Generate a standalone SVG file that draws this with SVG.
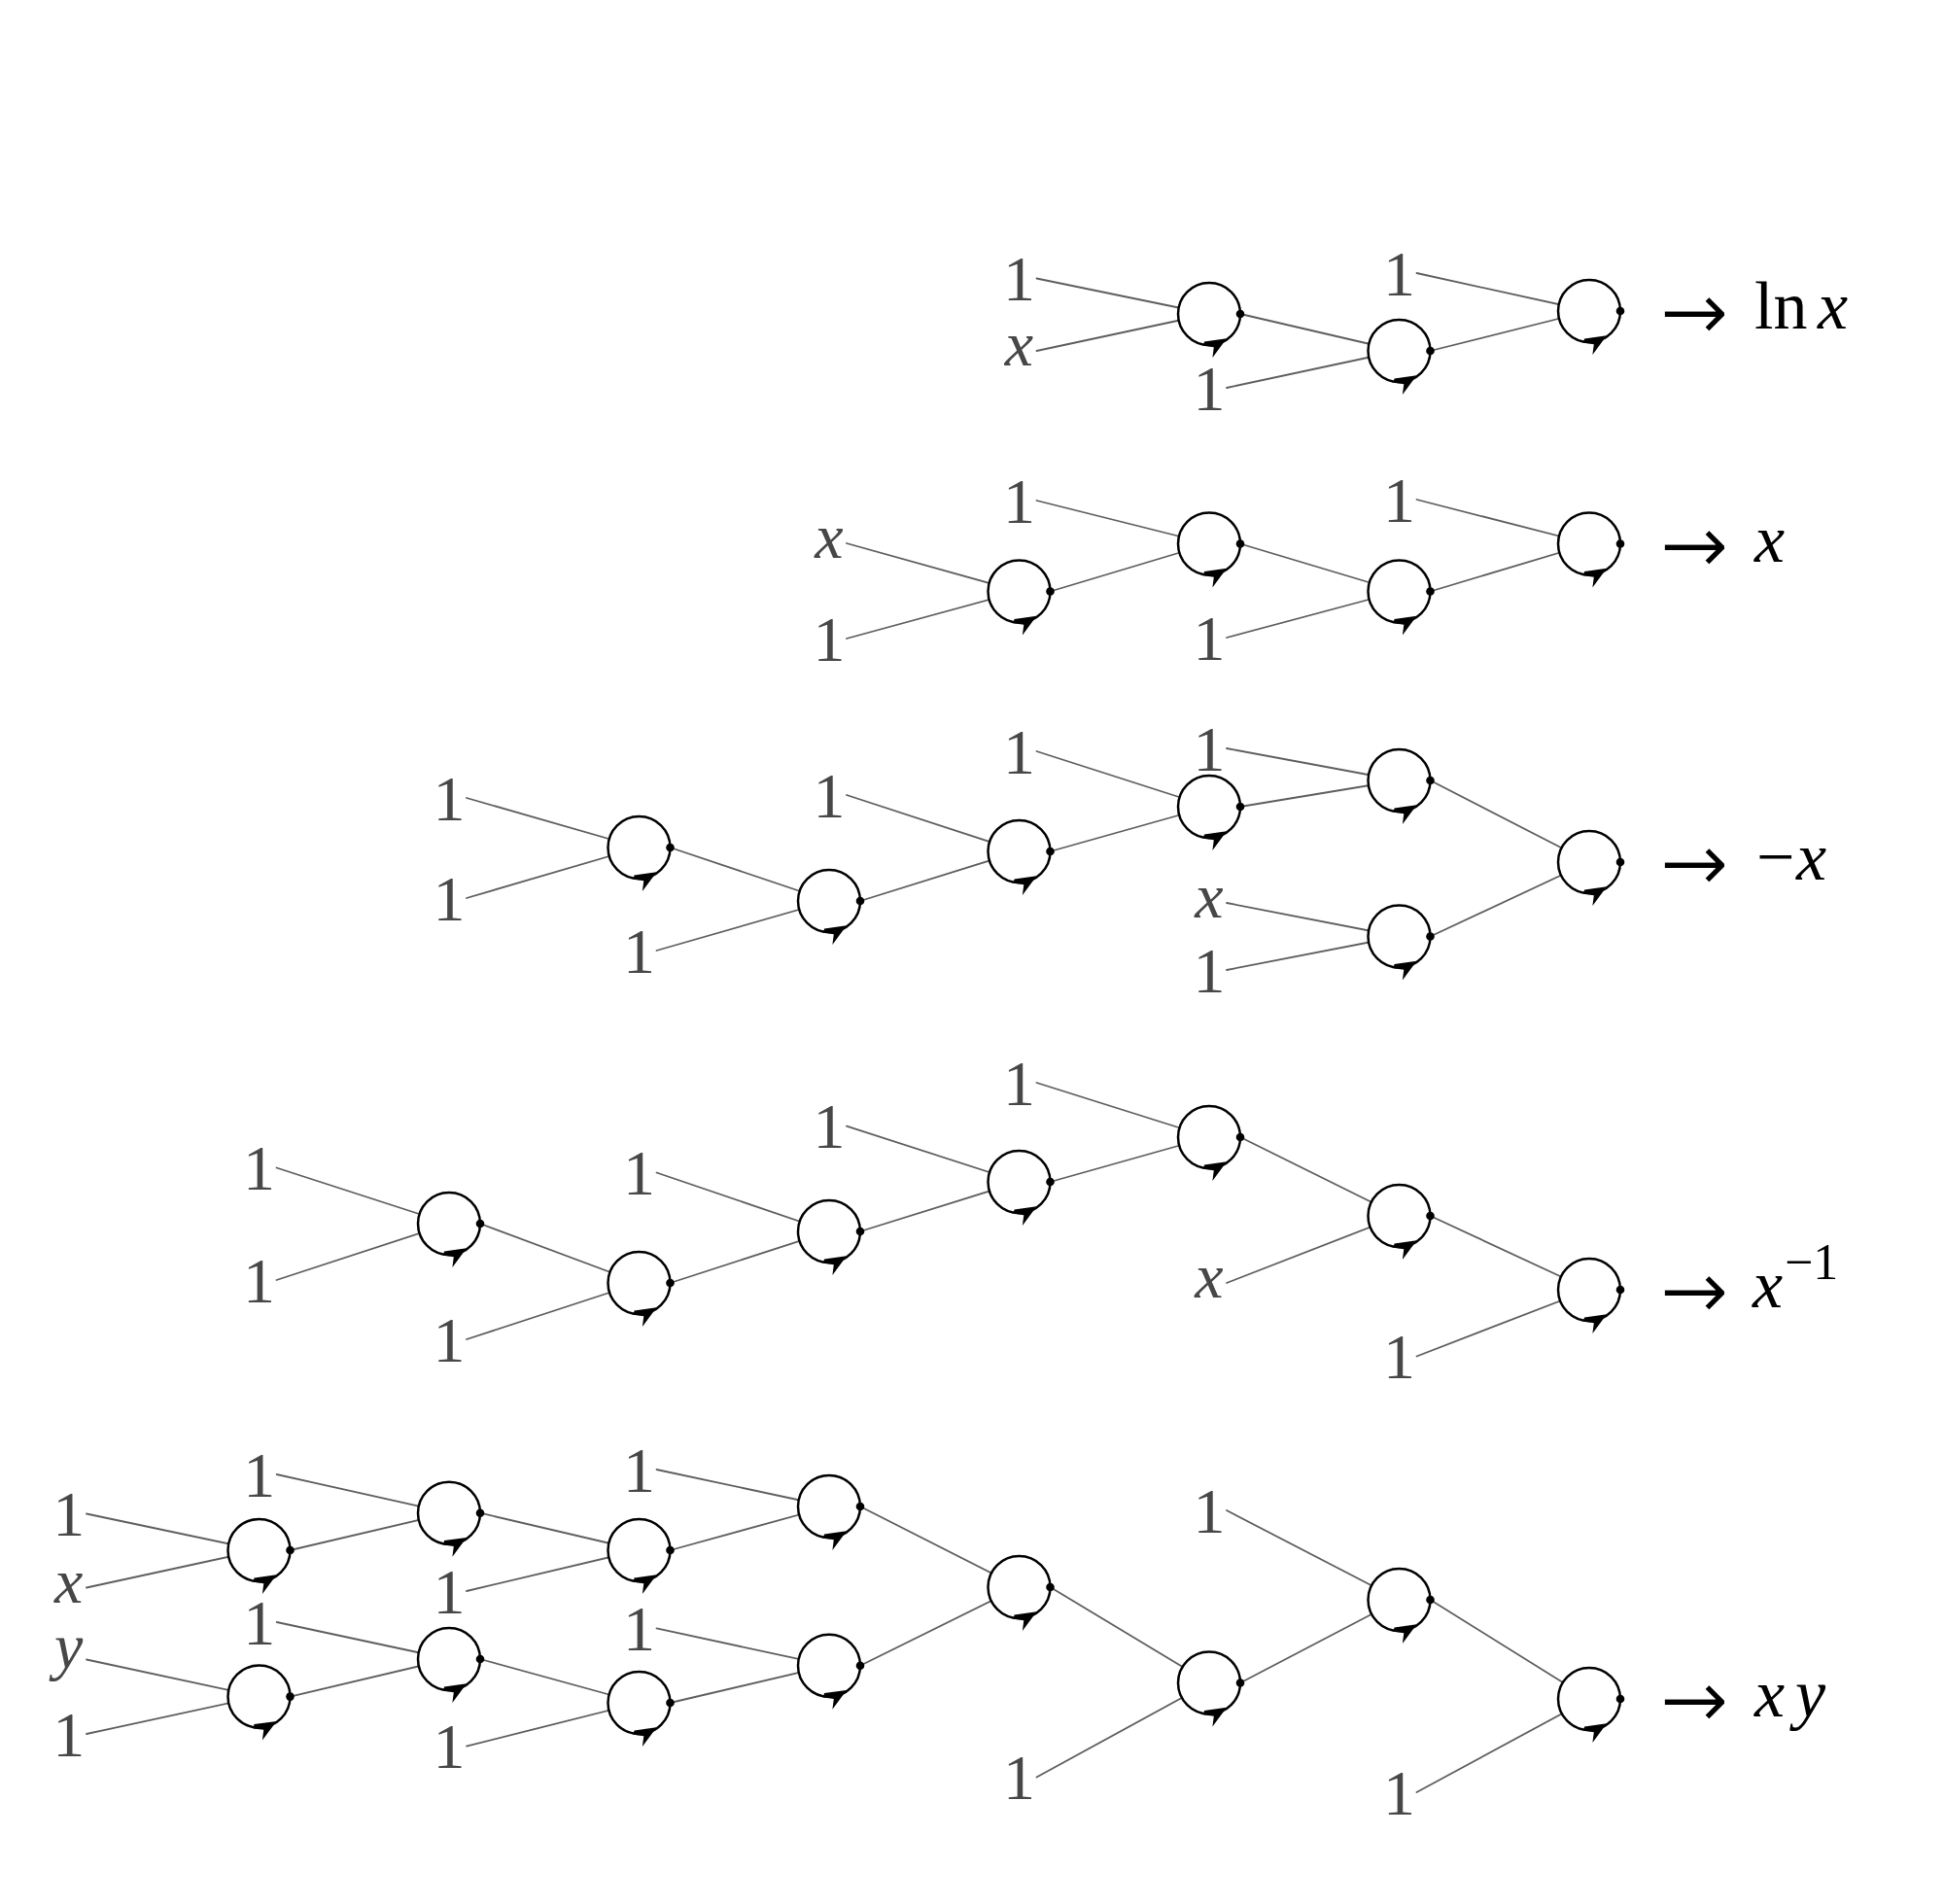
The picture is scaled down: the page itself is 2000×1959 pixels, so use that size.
<svg xmlns="http://www.w3.org/2000/svg" xmlns:xlink="http://www.w3.org/1999/xlink" width="2000" height="1959" viewBox="0 0 2000 1959">
<style>
.ring{fill:#fff;stroke:#000;stroke-width:2.5}
.head{fill:#000;stroke:none}
.dot{fill:#000}
.edge{stroke:#5e5e5e;stroke-width:1.8;fill:none;stroke-linecap:round}
.lab{font-family:"Liberation Serif","Times New Roman",serif;font-size:66px;fill:#474747;text-anchor:middle}
.it{font-style:italic}
.res{font-family:"Liberation Serif","Times New Roman",serif;font-size:70px;fill:#000}
.arr{font-family:"DejaVu Sans",sans-serif;font-size:86px;fill:#000;stroke:#fff;stroke-width:1.8;dominant-baseline:central}
.sup{font-size:52px}
</style>
<defs>
<g id="nd">
<circle class="ring" r="32"/>
<path class="head" d="M18,25.3 L3.4,45 L4.8,34.2 L-6,32.8 L-5,28.4 Z"/>
<circle class="dot" cx="32" cy="0" r="4.3"/>
</g>
</defs>
<rect width="2000" height="1959" fill="#fff"/>

<g id="connectors">
<!-- Row 1 -->
<line class="edge" x1="1066.5" y1="286.5" x2="1244" y2="323"/>
<line class="edge" x1="1066.5" y1="361" x2="1244" y2="323"/>
<line class="edge" x1="1276" y1="323" x2="1439.5" y2="361"/>
<line class="edge" x1="1262" y1="399" x2="1439.5" y2="361"/>
<line class="edge" x1="1471.5" y1="361" x2="1635" y2="320"/>
<line class="edge" x1="1457.5" y1="281" x2="1635" y2="320"/>
<!-- Row 2 -->
<line class="edge" x1="871" y1="559" x2="1048.5" y2="608.5"/>
<line class="edge" x1="871" y1="657" x2="1048.5" y2="608.5"/>
<line class="edge" x1="1066.5" y1="515" x2="1244" y2="559.5"/>
<line class="edge" x1="1080.5" y1="608.5" x2="1244" y2="559.5"/>
<line class="edge" x1="1276" y1="559.5" x2="1439.5" y2="608.5"/>
<line class="edge" x1="1262" y1="656" x2="1439.5" y2="608.5"/>
<line class="edge" x1="1457.5" y1="514" x2="1635" y2="559.5"/>
<line class="edge" x1="1471.5" y1="608.5" x2="1635" y2="559.5"/>
<!-- Row 3 -->
<line class="edge" x1="480" y1="821" x2="657.5" y2="872"/>
<line class="edge" x1="480" y1="924" x2="657.5" y2="872"/>
<line class="edge" x1="689.5" y1="872" x2="853" y2="927"/>
<line class="edge" x1="675.5" y1="978" x2="853" y2="927"/>
<line class="edge" x1="871" y1="818" x2="1048.5" y2="876"/>
<line class="edge" x1="885" y1="927" x2="1048.5" y2="876"/>
<line class="edge" x1="1066.5" y1="773" x2="1244" y2="830"/>
<line class="edge" x1="1080.5" y1="876" x2="1244" y2="830"/>
<line class="edge" x1="1262" y1="770" x2="1439.5" y2="803"/>
<line class="edge" x1="1276" y1="830" x2="1439.5" y2="803"/>
<line class="edge" x1="1262" y1="929" x2="1439.5" y2="963.5"/>
<line class="edge" x1="1262" y1="998" x2="1439.5" y2="963.5"/>
<line class="edge" x1="1471.5" y1="803" x2="1635" y2="887"/>
<line class="edge" x1="1471.5" y1="963.5" x2="1635" y2="887"/>
<!-- Row 4 -->
<line class="edge" x1="284.5" y1="1201.5" x2="462" y2="1259"/>
<line class="edge" x1="284.5" y1="1317" x2="462" y2="1259"/>
<line class="edge" x1="494" y1="1259" x2="657.5" y2="1320"/>
<line class="edge" x1="480" y1="1378" x2="657.5" y2="1320"/>
<line class="edge" x1="689.5" y1="1320" x2="853" y2="1267"/>
<line class="edge" x1="675.5" y1="1206.5" x2="853" y2="1267"/>
<line class="edge" x1="885" y1="1267" x2="1048.5" y2="1216"/>
<line class="edge" x1="871" y1="1158.6" x2="1048.5" y2="1216"/>
<line class="edge" x1="1080.5" y1="1216" x2="1244" y2="1170"/>
<line class="edge" x1="1066.5" y1="1114" x2="1244" y2="1170"/>
<line class="edge" x1="1276" y1="1170" x2="1439.5" y2="1251"/>
<line class="edge" x1="1262" y1="1320" x2="1439.5" y2="1251"/>
<line class="edge" x1="1471.5" y1="1251" x2="1635" y2="1327"/>
<line class="edge" x1="1457.5" y1="1395.5" x2="1635" y2="1327"/>
<!-- Row 5 -->
<line class="edge" x1="89" y1="1557.5" x2="266.5" y2="1595"/>
<line class="edge" x1="89" y1="1633.5" x2="266.5" y2="1595"/>
<line class="edge" x1="89" y1="1707.5" x2="266.5" y2="1745.6"/>
<line class="edge" x1="89" y1="1784" x2="266.5" y2="1745.6"/>
<line class="edge" x1="284.7" y1="1517" x2="462" y2="1556.7"/>
<line class="edge" x1="298.5" y1="1595" x2="462" y2="1556.7"/>
<line class="edge" x1="284.7" y1="1669" x2="462" y2="1707"/>
<line class="edge" x1="298.5" y1="1745.6" x2="462" y2="1707"/>
<line class="edge" x1="494" y1="1556.7" x2="657.5" y2="1595"/>
<line class="edge" x1="480" y1="1637" x2="657.5" y2="1595"/>
<line class="edge" x1="494" y1="1707" x2="657.5" y2="1752"/>
<line class="edge" x1="480" y1="1796.6" x2="657.5" y2="1752"/>
<line class="edge" x1="675.5" y1="1512" x2="853" y2="1550"/>
<line class="edge" x1="689.5" y1="1595" x2="853" y2="1550"/>
<line class="edge" x1="675.5" y1="1675.4" x2="853" y2="1713.7"/>
<line class="edge" x1="689.5" y1="1752" x2="853" y2="1713.7"/>
<line class="edge" x1="885" y1="1550" x2="1048.5" y2="1633"/>
<line class="edge" x1="885" y1="1713.7" x2="1048.5" y2="1633"/>
<line class="edge" x1="1080.5" y1="1633" x2="1244" y2="1731.5"/>
<line class="edge" x1="1066.5" y1="1828.5" x2="1244" y2="1731.5"/>
<line class="edge" x1="1276" y1="1731.5" x2="1439.5" y2="1646"/>
<line class="edge" x1="1262" y1="1554" x2="1439.5" y2="1646"/>
<line class="edge" x1="1471.5" y1="1646" x2="1635" y2="1748"/>
<line class="edge" x1="1457.5" y1="1844" x2="1635" y2="1748"/>
</g>

<!-- Nodes -->
<g id="n1a" transform="translate(1244,323)"><use href="#nd" xlink:href="#nd"/></g>
<g id="n1b" transform="translate(1439.5,361)"><use href="#nd" xlink:href="#nd"/></g>
<g id="n1c" transform="translate(1635,320)"><use href="#nd" xlink:href="#nd"/></g>

<g id="n2a" transform="translate(1048.5,608.5)"><use href="#nd" xlink:href="#nd"/></g>
<g id="n2b" transform="translate(1244,559.5)"><use href="#nd" xlink:href="#nd"/></g>
<g id="n2c" transform="translate(1439.5,608.5)"><use href="#nd" xlink:href="#nd"/></g>
<g id="n2d" transform="translate(1635,559.5)"><use href="#nd" xlink:href="#nd"/></g>

<g id="n3a" transform="translate(657.5,872)"><use href="#nd" xlink:href="#nd"/></g>
<g id="n3b" transform="translate(853,927)"><use href="#nd" xlink:href="#nd"/></g>
<g id="n3c" transform="translate(1048.5,876)"><use href="#nd" xlink:href="#nd"/></g>
<g id="n3d" transform="translate(1244,830)"><use href="#nd" xlink:href="#nd"/></g>
<g id="n3e" transform="translate(1439.5,803)"><use href="#nd" xlink:href="#nd"/></g>
<g id="n3f" transform="translate(1439.5,963.5)"><use href="#nd" xlink:href="#nd"/></g>
<g id="n3g" transform="translate(1635,887)"><use href="#nd" xlink:href="#nd"/></g>

<g id="n4a" transform="translate(462,1259)"><use href="#nd" xlink:href="#nd"/></g>
<g id="n4b" transform="translate(657.5,1320)"><use href="#nd" xlink:href="#nd"/></g>
<g id="n4c" transform="translate(853,1267)"><use href="#nd" xlink:href="#nd"/></g>
<g id="n4d" transform="translate(1048.5,1216)"><use href="#nd" xlink:href="#nd"/></g>
<g id="n4e" transform="translate(1244,1170)"><use href="#nd" xlink:href="#nd"/></g>
<g id="n4f" transform="translate(1439.5,1251)"><use href="#nd" xlink:href="#nd"/></g>
<g id="n4g" transform="translate(1635,1327)"><use href="#nd" xlink:href="#nd"/></g>

<g id="n5a" transform="translate(266.5,1595)"><use href="#nd" xlink:href="#nd"/></g>
<g id="n5b" transform="translate(266.5,1745.6)"><use href="#nd" xlink:href="#nd"/></g>
<g id="n5c" transform="translate(462,1556.7)"><use href="#nd" xlink:href="#nd"/></g>
<g id="n5d" transform="translate(462,1707)"><use href="#nd" xlink:href="#nd"/></g>
<g id="n5e" transform="translate(657.5,1595)"><use href="#nd" xlink:href="#nd"/></g>
<g id="n5f" transform="translate(657.5,1752)"><use href="#nd" xlink:href="#nd"/></g>
<g id="n5g" transform="translate(853,1550)"><use href="#nd" xlink:href="#nd"/></g>
<g id="n5h" transform="translate(853,1713.7)"><use href="#nd" xlink:href="#nd"/></g>
<g id="n5i" transform="translate(1048.5,1633)"><use href="#nd" xlink:href="#nd"/></g>
<g id="n5j" transform="translate(1244,1731.5)"><use href="#nd" xlink:href="#nd"/></g>
<g id="n5k" transform="translate(1439.5,1646)"><use href="#nd" xlink:href="#nd"/></g>
<g id="n5l" transform="translate(1635,1748)"><use href="#nd" xlink:href="#nd"/></g>

<!-- Input labels -->
<g id="labels">
<text class="lab" x="1048.5" y="309">1</text>
<text class="lab it" x="1048.5" y="376">x</text>
<text class="lab" x="1244" y="421.5">1</text>
<text class="lab" x="1439.5" y="303.5">1</text>

<text class="lab it" x="853" y="574">x</text>
<text class="lab" x="853" y="679.5">1</text>
<text class="lab" x="1048.5" y="537.5">1</text>
<text class="lab" x="1244" y="678.5">1</text>
<text class="lab" x="1439.5" y="536.5">1</text>

<text class="lab" x="462" y="843.5">1</text>
<text class="lab" x="462" y="946.5">1</text>
<text class="lab" x="657.5" y="1000.5">1</text>
<text class="lab" x="853" y="840.5">1</text>
<text class="lab" x="1048.5" y="795.5">1</text>
<text class="lab" x="1244" y="792.5">1</text>
<text class="lab it" x="1244" y="944">x</text>
<text class="lab" x="1244" y="1020.5">1</text>

<text class="lab" x="266.5" y="1224">1</text>
<text class="lab" x="266.5" y="1339.5">1</text>
<text class="lab" x="462" y="1400.5">1</text>
<text class="lab" x="657.5" y="1229">1</text>
<text class="lab" x="853" y="1181">1</text>
<text class="lab" x="1048.5" y="1136.5">1</text>
<text class="lab it" x="1244" y="1335">x</text>
<text class="lab" x="1439.5" y="1418">1</text>

<text class="lab" x="70.7" y="1580">1</text>
<text class="lab it" x="70.7" y="1648.5">x</text>
<text class="lab it" x="70.7" y="1716">y</text>
<text class="lab" x="70.7" y="1806.5">1</text>
<text class="lab" x="266.7" y="1539.5">1</text>
<text class="lab" x="266.7" y="1691.5">1</text>
<text class="lab" x="462" y="1659.5">1</text>
<text class="lab" x="462" y="1819">1</text>
<text class="lab" x="657.5" y="1534.5">1</text>
<text class="lab" x="657.5" y="1698">1</text>
<text class="lab" x="1244" y="1576.5">1</text>
<text class="lab" x="1048.5" y="1851">1</text>
<text class="lab" x="1439.5" y="1866.5">1</text>
</g>

<!-- Results -->
<g id="results">
<text class="arr" x="1707" y="320">→</text>
<text class="res" y="338"><tspan x="1805">ln</tspan><tspan x="1870" font-style="italic">x</tspan></text>
<text class="arr" x="1707" y="559.5">→</text>
<text class="res" y="577.5"><tspan x="1805" font-style="italic">x</tspan></text>
<text class="arr" x="1707" y="887">→</text>
<text class="res" y="905"><tspan x="1807">−</tspan><tspan x="1848" font-style="italic">x</tspan></text>
<text class="arr" x="1707" y="1327">→</text>
<text class="res" y="1345"><tspan x="1803" font-style="italic">x</tspan><tspan class="sup" x="1836" y="1316">−1</tspan></text>
<text class="arr" x="1707" y="1748">→</text>
<text class="res" y="1766"><tspan x="1805" font-style="italic">x</tspan><tspan x="1847" font-style="italic">y</tspan></text>
</g>
</svg>
